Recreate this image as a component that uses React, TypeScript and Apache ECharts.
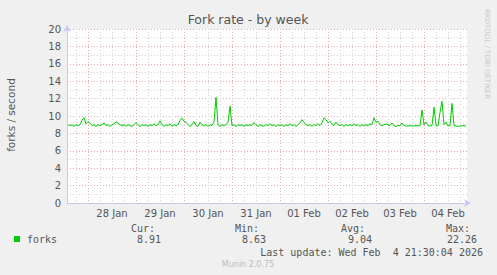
import React, { useEffect, useRef } from "react";
import * as echarts from "echarts";

const dayLabels = ["28 Jan", "29 Jan", "30 Jan", "31 Jan", "01 Feb", "02 Feb", "03 Feb", "04 Feb"];
const yTicks = [0, 2, 4, 6, 8, 10, 12, 14, 16, 18, 20];
// hours since Jan 27 00:00; first sample at 14:00, one sample per hour
const firstHour = 14;
const forkValues = [
  9.0, 8.9, 9.0, 8.8, 9.0, 8.9, 9.0, 9.5, 9.8, 9.1, 9.35, 9.2, 8.9, 9.0, 8.8, 9.0, 8.9, 9.0, 9.2, 8.9,
  9.0, 8.8, 9.0, 9.1, 9.35, 9.2, 9.0, 8.9, 9.0, 8.8, 9.0, 8.9, 8.8, 9.0, 9.25, 9.0, 8.8, 9.0, 8.9, 9.0,
  8.8, 9.0, 8.9, 9.1, 8.9, 9.0, 9.45, 9.0, 8.8, 9.0, 8.9, 9.1, 8.8, 9.0, 8.9, 9.0, 9.5, 9.75, 9.4, 9.3,
  9.0, 8.8, 9.0, 9.35, 8.9, 8.8, 9.3, 9.0, 8.9, 9.0, 8.8, 9.0, 8.9, 9.3, 12.15, 9.0, 8.8, 9.0, 8.9, 9.0,
  9.3, 11.15, 8.9, 9.0, 8.8, 9.0, 8.9, 9.0, 8.8, 9.0, 8.9, 9.0, 8.9, 9.25, 9.0, 8.8, 9.0, 8.9, 8.8, 9.0,
  8.9, 9.1, 8.9, 9.0, 8.8, 9.0, 8.9, 9.0, 8.8, 9.0, 8.9, 9.1, 8.9, 9.0, 8.8, 9.0, 9.2, 9.58, 9.3, 9.0,
  8.9, 9.0, 8.8, 9.0, 8.9, 9.1, 8.9, 9.2, 9.8, 9.6, 9.2, 9.4, 9.1, 8.9, 9.3, 9.0, 8.9, 9.0, 8.8, 9.0,
  8.9, 9.0, 8.9, 9.1, 8.9, 9.0, 8.8, 9.0, 8.9, 9.0, 8.9, 9.1, 9.0, 9.8, 9.3, 9.4, 9.0, 8.9, 9.0, 9.1,
  9.0, 8.9, 9.2, 8.9, 8.8, 8.9, 8.9, 9.2, 8.9, 8.85, 8.85, 8.9, 8.85, 8.85, 8.9, 8.85, 8.9, 10.7, 9.0, 9.3,
  8.9, 8.85, 8.9, 11.0, 8.9, 8.85, 10.4, 11.7, 9.0, 9.3, 8.85, 8.9, 11.45, 8.9, 8.85, 8.8, 8.85, 8.85, 8.9, 8.85,
];
const legendName = "forks";
const statLabels = ["Cur:", "Min:", "Avg:", "Max:"];
const statValues = ["8.91", "8.63", "9.04", "22.26"];

const xMin = 13.5;
const xMax = 213.5;

export default function App() {
  const ref = useRef<HTMLDivElement>(null);
  useEffect(() => {
    document.body.style.margin = "0";
    const chart = echarts.init(ref.current!, null, { renderer: "svg" });
    const sixHour: number[] = [];
    const midnights: number[] = [];
    for (let h = 18; h < xMax; h += 6) {
      if (h % 24 === 0) midnights.push(h);
      else sixHour.push(h);
    }
    const noons = dayLabels.map((_, i) => 36 + i * 24);
    const data = forkValues.map((v, i) => [firstHour + i, v]);
    const mono = "DejaVu Sans Mono";
    const txtColor = "#555";
    const statX = [155, 259, 365, 470];
    const valX = [161, 266, 372, 477];
    const graphics: any[] = [
      { type: "text", x: 248, y: 19.5, style: { text: "Fork rate - by week", font: "12.5px DejaVu Sans", fill: txtColor, align: "center", verticalAlign: "middle" } },
      { type: "text", x: 11, y: 115, rotation: Math.PI / 2, style: { text: "forks / second", font: "10.5px DejaVu Sans", fill: txtColor, align: "center", verticalAlign: "middle" } },
      { type: "text", x: 487, y: 54, rotation: -Math.PI / 2, style: { text: "RRDTOOL / TOBI OETIKER", font: "7px DejaVu Sans", fill: "#c8c8c8", align: "center", verticalAlign: "middle" } },
      { type: "rect", shape: { x: 14, y: 236, width: 6, height: 6 }, style: { fill: "#00cc00" } },
      { type: "text", x: 27, y: 239.5, style: { text: legendName, font: `10px ${mono}`, fill: txtColor, verticalAlign: "middle" } },
      { type: "text", x: 483, y: 252, style: { text: "Last update: Wed Feb  4 21:30:04 2026", font: `10px ${mono}`, fill: txtColor, align: "right", verticalAlign: "middle" } },
      { type: "text", x: 248, y: 264.5, style: { text: "Munin 2.0.75", font: "8px DejaVu Sans", fill: "#bbb", align: "center", verticalAlign: "middle" } },
    ];
    statLabels.forEach((s, i) => {
      graphics.push({ type: "text", x: statX[i], y: 228.5, style: { text: s, font: `10px ${mono}`, fill: txtColor, align: "right", verticalAlign: "middle" } });
      graphics.push({ type: "text", x: valX[i], y: 239.5, style: { text: statValues[i], font: `10px ${mono}`, fill: txtColor, align: "right", verticalAlign: "middle" } });
    });
    const axisLineColor = "#c8c8f0";
    chart.setOption({
      animation: false,
      backgroundColor: "#f0f0f0",
      grid: { left: 67, right: 30, top: 29, bottom: 72, show: true, backgroundColor: "#ffffff", borderWidth: 0 },
      xAxis: [
        {
          type: "value",
          min: xMin,
          max: xMax,
          position: "bottom",
          axisLine: { show: true, symbol: ["none", "arrow"], symbolSize: [6, 7], symbolOffset: [0, 4], lineStyle: { color: axisLineColor, width: 1 } },
          axisTick: { show: false, customValues: sixHour },
          splitLine: { show: true, lineStyle: { color: "#d4d4d4", type: [1, 2], width: 1 } },
          axisLabel: {
            customValues: noons,
            color: txtColor,
            fontFamily: "DejaVu Sans",
            fontSize: 10,
            margin: 5,
            formatter: (v: number) => dayLabels[Math.round((v - 36) / 24)] ?? "",
          },
        },
        {
          type: "value",
          min: xMin,
          max: xMax,
          position: "top",
          axisLine: { show: false },
          axisTick: { show: false, customValues: midnights },
          axisLabel: { show: false },
          splitLine: { show: true, lineStyle: { color: "#e8a8a8", type: [1, 2], width: 1 } },
        },
      ],
      yAxis: {
        type: "value",
        min: 0,
        max: 20,
        interval: 2,
        axisLine: { show: true, symbol: ["none", "arrow"], symbolSize: [6, 7], symbolOffset: [0, 4], lineStyle: { color: axisLineColor, width: 1 } },
        axisTick: { show: false },
        axisLabel: { color: txtColor, fontFamily: "DejaVu Sans", fontSize: 10, margin: 6, formatter: (v: number) => (yTicks.includes(v) ? String(v) : "") },
        splitLine: { show: true, lineStyle: { color: "#e8a8a8", type: [1, 2], width: 1 } },
        minorTick: { show: false, splitNumber: 2 },
        minorSplitLine: { show: true, lineStyle: { color: "#d4d4d4", type: [1, 2], width: 1 } },
      },
      series: [
        {
          type: "line",
          name: legendName,
          xAxisIndex: 0,
          data,
          showSymbol: false,
          symbol: "none",
          lineStyle: { color: "#00cc00", width: 1 },
          z: 5,
        },
      ],
      graphic: graphics,
    });
    return () => chart.dispose();
  }, []);
  return <div ref={ref} style={{ width: 497, height: 275 }} />;
}
